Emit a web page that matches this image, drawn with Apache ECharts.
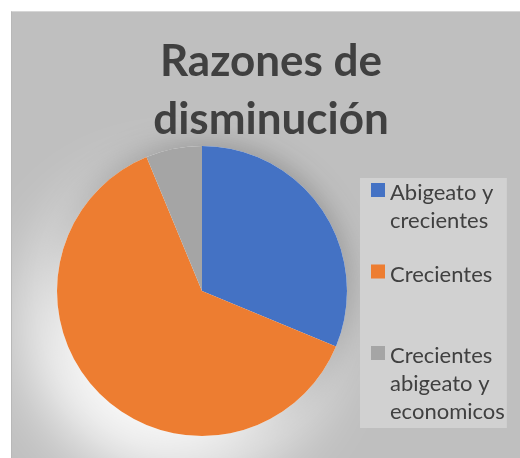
<!DOCTYPE html>
<html>
<head>
<meta charset="utf-8">
<script src="https://cdn.jsdelivr.net/npm/echarts@6/dist/echarts.min.js"></script>
<style>
    html, body { margin: 0; padding: 0; background: #ffffff; }
    #chart {
        position: absolute;
        left: 11px;
        top: 11px;
        width: 508px;
        height: 446px;
        border-left: 1px solid #b8b8b8;
        border-top: 1px solid #d6d6d6;
    }
</style>
</head>
<body>
<div id="chart"></div>
<script>
// datos del grafico
const categories = ['Abigeato y crecientes', 'Crecientes', 'Crecientes abigeato y economicos']
const values = [5, 10, 1]
const legendLines = [
    ['Abigeato y', 'crecientes'],
    ['Crecientes'],
    ['Crecientes', 'abigeato y', 'economicos']
]
const colors = ['#4472c4', '#ed7d31', '#a5a5a5']
const titleText = 'Razones de\ndisminución'

const FONT = 'Lato, "Open Sans", sans-serif'
const CENTER = [190, 279]
const RADIUS = 145

let total = values.reduce((a, b) => a + b, 0)

// icono cuadrado alineado con la primera linea
const LEGEND_ICON = 'path://M0,0L14,0M0,4L14,4L14,18L0,18ZM0,84L14,84'

function padLines(name) {
    let lines = legendLines[categories.indexOf(name)].slice()
    while (lines.length < 3) {
        lines.push(' ')
    }
    return lines.join('\n')
}

// capas de sombra bajo la torta
function shadowLayer(color, shadowColor, blur, offX, offY, z) {
    return {
        type: 'pie',
        silent: true,
        z: z,
        center: CENTER,
        radius: RADIUS,
        label: { show: false },
        labelLine: { show: false },
        emphasis: { disabled: true },
        itemStyle: {
            color: color,
            shadowColor: shadowColor,
            shadowBlur: blur,
            shadowOffsetX: offX,
            shadowOffsetY: offY
        },
        data: [{ name: '', value: total }]
    }
}

let option = {
    backgroundColor: '#bfbfbf',
    animation: false,
    title: {
        text: titleText,
        left: 259,
        top: 21,
        padding: 0,
        textAlign: 'center',
        textStyle: {
            fontFamily: FONT,
            fontWeight: 'bold',
            fontSize: 44,
            lineHeight: 58,
            color: '#404040'
        }
    },
    legend: {
        orient: 'vertical',
        left: 348,
        top: 166,
        padding: [1, 2, 2, 11],
        backgroundColor: '#d1d1d1',
        itemWidth: 14,
        itemHeight: 84,
        itemGap: -2.5,
        selectedMode: false,
        itemStyle: { borderWidth: 0 },
        data: categories.map(c => ({ name: c, icon: LEGEND_ICON })),
        formatter: padLines,
        textStyle: {
            fontFamily: FONT,
            fontSize: 22,
            lineHeight: 28,
            color: '#404040'
        }
    },
    series: [
        shadowLayer('#9a9a9a', 'rgba(0,0,0,0.35)', 30, 0, 0, 1),
        shadowLayer('#ffffff', 'rgba(255,255,255,1)', 70, -25, 38, 2),
        {
            type: 'pie',
            z: 3,
            center: CENTER,
            radius: RADIUS,
            startAngle: 90,
            clockwise: true,
            label: { show: false },
            labelLine: { show: false },
            emphasis: { disabled: true },
            itemStyle: { borderWidth: 0 },
            data: categories.map((c, i) => ({
                name: c,
                value: values[i],
                itemStyle: { color: colors[i] }
            }))
        }
    ]
}

let myChart = echarts.init(document.getElementById('chart'))
myChart.setOption(option)
</script>
</body>
</html>
